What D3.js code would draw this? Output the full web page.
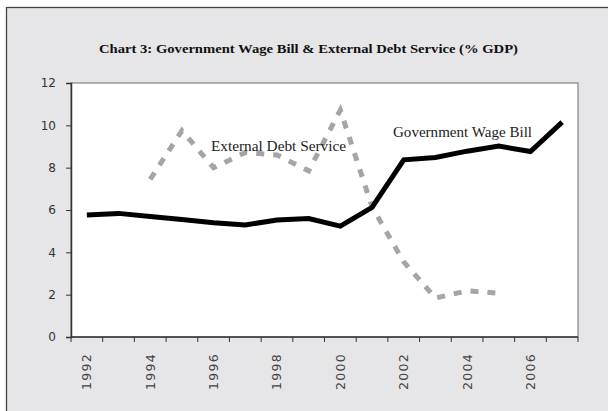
<!DOCTYPE html>
<html>
<head>
<meta charset="utf-8">
<script src="https://cdn.jsdelivr.net/npm/d3@7"></script>
<style>
  html, body { margin: 0; padding: 0; background: #ffffff; }
  svg { display: block; }
</style>
</head>
<body>
<svg id="chart" width="608" height="411"></svg>
<script>
// Years on the category axis
const years = [1992, 1993, 1994, 1995, 1996, 1997, 1998, 1999,
               2000, 2001, 2002, 2003, 2004, 2005, 2006, 2007];

// Government wage bill, % of GDP
const wageBill = [5.76, 5.84, 5.69, 5.55, 5.40, 5.29, 5.53, 5.60,
                  5.24, 6.12, 8.37, 8.48, 8.78, 9.02, 8.76, 10.15];

// External debt service, % of GDP (1994–2005 only)
const debtService = [null, null, 7.45, 9.75, 8.00, 8.72, 8.60, 7.85,
                     10.72, 6.15, 3.55, 1.84, 2.18, 2.07, null, null];

const yTicks = [0, 2, 4, 6, 8, 10, 12];
const xLabelYears = [1992, 1994, 1996, 1998, 2000, 2002, 2004, 2006];

const titleText = "Chart 3: Government Wage Bill & External Debt Service (% GDP)";

const svg = d3.select("#chart");

// Outer chart frame (open on the right and bottom)
svg.append("rect")
  .attr("x", 6.5).attr("y", 7.5)
  .attr("width", 620).attr("height", 420)
  .attr("fill", "#e6e6e8")
  .attr("stroke", "#444").attr("stroke-width", 1.3);

const plot = { left: 71, right: 578, top: 83, bottom: 337 };

const x = d3.scaleBand()
  .domain(years)
  .range([plot.left, plot.right])
  .paddingInner(0).paddingOuter(0);

const y = d3.scaleLinear()
  .domain([0, 12])
  .range([plot.bottom, plot.top]);

// Plot area
svg.append("rect")
  .attr("x", plot.left).attr("y", plot.top)
  .attr("width", plot.right - plot.left)
  .attr("height", plot.bottom - plot.top)
  .attr("fill", "#ffffff")
  .attr("stroke", "#6e6e6e").attr("stroke-width", 1);

svg.append("text")
  .attr("x", 99).attr("y", 53)
  .attr("font-family", "'Liberation Serif', serif")
  .attr("font-weight", "bold")
  .attr("font-size", 13.5)
  .attr("textLength", 419)
  .attr("lengthAdjust", "spacingAndGlyphs")
  .attr("fill", "#111")
  .text(titleText);

// Y axis
const yAxis = svg.append("g")
  .attr("transform", `translate(${plot.left},0)`)
  .call(d3.axisLeft(y).tickValues(yTicks).tickSize(5).tickPadding(10).tickFormat(d3.format("d")));
yAxis.select(".domain").attr("stroke", "#333").attr("stroke-width", 1.5);
yAxis.selectAll(".tick line").attr("stroke", "#333");
yAxis.selectAll(".tick text")
  .attr("font-family", "'DejaVu Sans', sans-serif")
  .attr("font-size", 12)
  .attr("fill", "#333");

// X axis: ticks on band boundaries, labels at band centres
const xAxisG = svg.append("g")
  .attr("transform", `translate(0,${plot.bottom})`);
xAxisG.append("line")
  .attr("x1", plot.left).attr("x2", plot.right)
  .attr("stroke", "#333").attr("stroke-width", 1.5);
const boundaries = years.map(d => x(d)).concat([x(years[years.length - 1]) + x.bandwidth()]);
xAxisG.selectAll("line.tk")
  .data(boundaries)
  .join("line")
  .attr("class", "tk")
  .attr("x1", d => d).attr("x2", d => d)
  .attr("y1", 0).attr("y2", 5)
  .attr("stroke", "#333");
xAxisG.selectAll("text")
  .data(xLabelYears)
  .join("text")
  .attr("transform", d => `translate(${x(d) + x.bandwidth() / 2 + 4.5},16) rotate(-90)`)
  .attr("text-anchor", "end")
  .attr("font-family", "'DejaVu Sans', sans-serif")
  .attr("font-size", 12.5)
  .attr("letter-spacing", 1.3)
  .attr("fill", "#444")
  .text(d => d);

const cx = d => x(d) + x.bandwidth() / 2;

// External debt service: grey dashed line
const debtLine = d3.line()
  .defined(d => d.v != null)
  .x(d => cx(d.year))
  .y(d => y(d.v));
svg.append("path")
  .datum(years.map((yr, i) => ({ year: yr, v: debtService[i] })))
  .attr("d", debtLine)
  .attr("fill", "none")
  .attr("stroke", "#a5a5a8")
  .attr("stroke-width", 5)
  .attr("stroke-dasharray", "8,9");

// Government wage bill: solid black line
const wageLine = d3.line()
  .x(d => cx(d.year))
  .y(d => y(d.v));
svg.append("path")
  .datum(years.map((yr, i) => ({ year: yr, v: wageBill[i] })))
  .attr("d", wageLine)
  .attr("fill", "none")
  .attr("stroke", "#000")
  .attr("stroke-width", 5)
  .attr("stroke-linejoin", "miter");

// Series labels
svg.append("text")
  .attr("x", 211).attr("y", 151)
  .attr("font-family", "'Liberation Serif', serif")
  .attr("font-size", 14.5)
  .attr("textLength", 135)
  .attr("lengthAdjust", "spacingAndGlyphs")
  .attr("fill", "#222")
  .text("External Debt Service");

svg.append("text")
  .attr("x", 393).attr("y", 137)
  .attr("font-family", "'Liberation Serif', serif")
  .attr("font-size", 14.5)
  .attr("textLength", 139)
  .attr("lengthAdjust", "spacingAndGlyphs")
  .attr("fill", "#222")
  .text("Government Wage Bill");
</script>
</body>
</html>
